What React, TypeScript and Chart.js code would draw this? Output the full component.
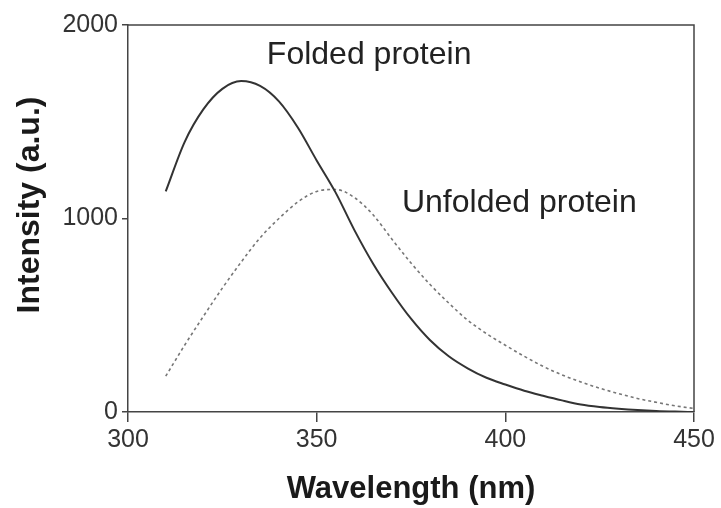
import { useEffect, useRef } from "react";
import { Chart, registerables } from "chart.js";

Chart.register(...registerables);

const wavelengths = [310, 315, 320, 325, 330, 335, 340, 345, 350, 355, 360, 365, 370, 375, 380, 385, 390, 395, 400, 405, 410, 415, 420, 425, 430, 435, 440, 445, 450];
const folded = [1140, 1395, 1565, 1670, 1710, 1685, 1605, 1470, 1300, 1135, 940, 765, 615, 482, 372, 288, 226, 177, 142, 110, 84, 60, 39, 26, 17, 10, 5, 2, 0];
const unfolded = [185, 345, 495, 640, 775, 900, 1000, 1085, 1140, 1150, 1108, 1018, 892, 770, 660, 563, 475, 405, 345, 288, 236, 192, 155, 123, 95, 70, 50, 32, 18];

const xTicks = [300, 350, 400, 450];
const yTicks = [0, 1000, 2000];

const labelTexts = ["Folded protein", "Unfolded protein"];
const labelX = [336.8, 372.6];
const labelY = [1845, 1080];

const FONT = "'Liberation Sans', Arial, sans-serif";

export default function App() {
  const ref = useRef<HTMLCanvasElement | null>(null);

  useEffect(() => {
    document.body.style.margin = "0";
    const canvas = ref.current;
    if (!canvas) return;

    const framePlugin = {
      id: "frameAndLabels",
      afterDraw(chart: any) {
        const { ctx, chartArea } = chart;
        const xs = chart.scales.x;
        const ys = chart.scales.y;
        ctx.save();
        ctx.strokeStyle = "#444";
        ctx.lineWidth = 1.5;
        ctx.beginPath();
        ctx.moveTo(chartArea.left, chartArea.top);
        ctx.lineTo(chartArea.right, chartArea.top);
        ctx.lineTo(chartArea.right, chartArea.bottom);
        ctx.stroke();

        ctx.fillStyle = "#222";
        ctx.font = `32px ${FONT}`;
        ctx.textAlign = "left";
        ctx.textBaseline = "middle";
        labelTexts.forEach((t, i) => {
          ctx.fillText(t, xs.getPixelForValue(labelX[i]), ys.getPixelForValue(labelY[i]));
        });

        ctx.translate(30, 205);
        ctx.rotate(-Math.PI / 2);
        ctx.font = `bold 32px ${FONT}`;
        ctx.textAlign = "center";
        ctx.fillStyle = "#1a1a1a";
        ctx.fillText("Intensity (a.u.)", 0, 0);
        ctx.restore();
      },
    };

    const chart = new Chart(canvas, {
      type: "line",
      data: {
        datasets: [
          {
            label: "Folded protein",
            data: wavelengths.map((w, i) => ({ x: w, y: folded[i] })),
            borderColor: "#333",
            borderWidth: 2,
            pointRadius: 0,
            cubicInterpolationMode: "monotone",
            fill: false,
          },
          {
            label: "Unfolded protein",
            data: wavelengths.map((w, i) => ({ x: w, y: unfolded[i] })),
            borderColor: "#777",
            borderWidth: 1.6,
            borderDash: [3, 3],
            pointRadius: 0,
            cubicInterpolationMode: "monotone",
            fill: false,
          },
        ],
      },
      options: {
        responsive: false,
        animation: false,
        layout: { padding: { top: 25, right: 27, bottom: 0, left: 0 } },
        plugins: { legend: { display: false }, tooltip: { enabled: false } },
        scales: {
          x: {
            type: "linear",
            min: 300,
            max: 450,
            afterBuildTicks: (s: any) => {
              s.ticks = xTicks.map((v) => ({ value: v }));
            },
            afterFit: (s: any) => {
              s.height = 96;
            },
            grid: { drawOnChartArea: false, drawTicks: true, tickLength: 10, color: "#444", lineWidth: 1.5 },
            border: { display: true, color: "#444", width: 1.5 },
            ticks: {
              color: "#333",
              font: { family: FONT, size: 25 },
              padding: 3,
              maxRotation: 0,
              callback: (v: any) => String(v),
            },
            title: {
              display: true,
              text: "Wavelength (nm)",
              color: "#1a1a1a",
              font: { family: FONT, size: 31, weight: "bold" },
              padding: { top: 0, bottom: 0 },
            },
          },
          y: {
            type: "linear",
            min: 0,
            max: 2000,
            afterBuildTicks: (s: any) => {
              s.ticks = yTicks.map((v) => ({ value: v }));
            },
            afterFit: (s: any) => {
              s.width = 128;
            },
            grid: { drawOnChartArea: false, drawTicks: true, tickLength: 6, color: "#444", lineWidth: 1.5 },
            border: { display: true, color: "#444", width: 1.5 },
            ticks: {
              color: "#333",
              font: { family: FONT, size: 25 },
              padding: 4,
              callback: (v: any) => String(v),
            },
          },
        },
      },
      plugins: [framePlugin],
    } as any);

    return () => chart.destroy();
  }, []);

  return <canvas ref={ref} width={721} height={508} style={{ display: "block" }} />;
}
